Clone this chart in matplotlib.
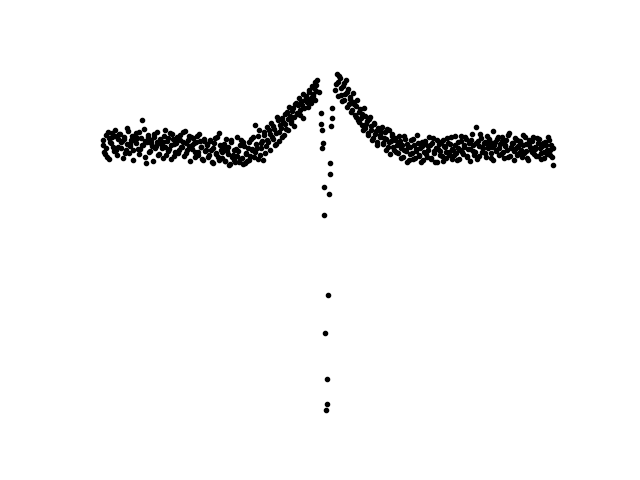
import numpy as np
import matplotlib
matplotlib.use("Agg")
import matplotlib.pyplot as plt

# Detuning (arbitrary units) and signal values
left_detuning = np.linspace(-225, -12, 143)
left_signal = [
    155, 148, 165, 143, 162, 158, 167, 153, 164, 150,
    161, 166, 152, 159, 163, 147, 156, 169, 154, 160,
    150, 164, 157, 162, 168, 151, 180, 155, 159, 137,
    163, 148, 160, 154, 166, 152, 158, 145, 161, 156,
    142, 164, 153, 159, 149, 167, 155, 161, 144, 157,
    162, 150, 165, 153, 158, 169, 147, 160, 154, 163,
    151, 157, 143, 164, 148, 159, 153, 140, 161, 150,
    155, 145, 159, 138, 152, 162, 147, 143, 167, 150,
    142, 156, 139, 149, 153, 136, 160, 145, 140, 151,
    144, 138, 155, 142, 158, 137, 147, 152, 140, 161,
    150, 143, 175, 152, 164, 145, 157, 140, 168, 154,
    160, 170, 150, 163, 174, 155, 167, 180, 159, 172,
    182, 165, 176, 188, 170, 184, 179, 192, 174, 197,
    186, 202, 190, 195, 182, 200, 204, 193, 208, 197,
    203, 212, 200,
]

left_detuning_2 = np.linspace(-224.25, -11.25, 143)
left_signal_2 = [
    160, 146, 152, 168, 141, 157, 163, 149, 170, 145,
    153, 166, 158, 142, 161, 150, 172, 147, 156, 164,
    140, 159, 167, 151, 146, 162, 155, 171, 143, 158,
    165, 149, 157, 139, 163, 154, 168, 146, 160, 152,
    158, 170, 145, 162, 151, 141, 166, 156, 148, 163,
    147, 160, 153, 168, 144, 157, 150, 164, 139, 155,
    162, 148, 158, 145, 166, 153, 141, 159, 149, 156,
    143, 160, 150, 137, 157, 146, 163, 140, 155, 148,
    152, 139, 161, 146, 135, 158, 143, 150, 138, 163,
    149, 141, 160, 136, 154, 146, 139, 158, 144, 151,
    163, 148, 156, 141, 170, 152, 159, 165, 147, 173,
    158, 166, 177, 161, 171, 156, 183, 168, 175, 163,
    178, 186, 171, 181, 193, 177, 189, 183, 196, 187,
    195, 185, 199, 206, 192, 203, 198, 210, 201, 214,
    206, 218, 209,
]

right_detuning = np.linspace(8, 225.5, 146)
right_signal = [
    210, 226, 218, 222, 205, 214, 200, 220, 208, 196,
    203, 190, 198, 185, 194, 180, 188, 182, 175, 192,
    172, 179, 167, 183, 174, 162, 176, 169, 158, 171,
    165, 173, 157, 168, 161, 153, 170, 159, 164, 150,
    162, 155, 147, 159, 152, 143, 164, 149, 156, 140,
    153, 147, 161, 142, 151, 157, 145, 138, 154, 148,
    159, 143, 150, 155, 141, 162, 147, 152, 138, 156,
    149, 144, 160, 153, 142, 157, 148, 163, 151, 145,
    155, 140, 158, 150, 164, 146, 153, 161, 143, 157,
    151, 166, 155, 148, 173, 159, 144, 162, 153, 157,
    147, 164, 152, 158, 142, 169, 155, 150, 161, 145,
    156, 163, 148, 154, 160, 143, 167, 152, 157, 149,
    162, 145, 154, 159, 150, 165, 147, 156, 142, 160,
    153, 148, 163, 151, 144, 157, 161, 147, 154, 142,
    158, 150, 163, 145, 155, 135,
]

right_detuning_2 = np.linspace(8.75, 226.25, 146)
right_signal_2 = [
    216, 204, 224, 212, 199, 217, 206, 193, 211, 201,
    188, 207, 196, 183, 200, 178, 191, 186, 170, 184,
    176, 165, 181, 170, 160, 177, 166, 155, 172, 163,
    168, 156, 162, 150, 171, 158, 146, 166, 153, 160,
    148, 158, 164, 142, 155, 150, 161, 138, 153, 146,
    160, 141, 155, 149, 165, 144, 152, 158, 140, 156,
    146, 154, 163, 142, 157, 149, 138, 160, 151, 145,
    158, 139, 154, 148, 162, 145, 156, 141, 150, 164,
    147, 152, 141, 159, 148, 155, 163, 144, 151, 139,
    160, 149, 145, 157, 141, 154, 166, 148, 152, 158,
    143, 155, 161, 147, 153, 140, 158, 149, 163, 152,
    146, 159, 142, 155, 150, 165, 144, 153, 157, 140,
    152, 160, 147, 158, 143, 155, 163, 149, 140, 157,
    150, 159, 146, 153, 162, 144, 152, 141, 157, 148,
    155, 146, 160, 150, 143, 152,
]

center_detuning = [-10, -11, -8, -14, -6, 5, 5, -6, 4, -5, -4, -5,
                   3, 3, -3, 2, -3, 1, -2, 0, 0, -1]
center_signal = [220, 215, 208, 204, 187, 192, 182, 176, 174, 170, 157, 152,
                 137, 126, 113, 106, 85, 5, -33, -79, -104, -110]

detuning = np.concatenate([left_detuning, left_detuning_2, center_detuning,
                           right_detuning, right_detuning_2])
signal = np.concatenate([left_signal, left_signal_2, center_signal,
                         right_signal, right_signal_2])

fig, ax = plt.subplots(figsize=(6.4, 4.8), dpi=100)
ax.plot(detuning, signal, 'k.', linestyle='none')
ax.axis('off')
fig.savefig("out.png", dpi=100)
